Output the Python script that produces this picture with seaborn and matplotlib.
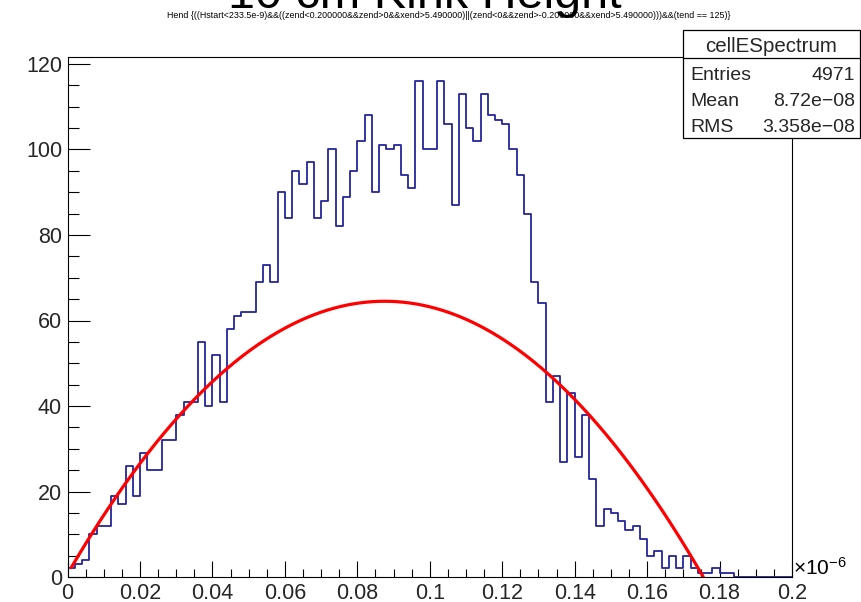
import numpy as np
import pandas as pd
import matplotlib
matplotlib.use("Agg")
import matplotlib.pyplot as plt
import seaborn as sns
from matplotlib.ticker import MultipleLocator, FixedLocator, FixedFormatter
from matplotlib.patches import Rectangle
from matplotlib.lines import Line2D

# ---------------- data ----------------
counts = [2, 3, 4, 10, 12, 12, 19, 17, 26, 19,
          29, 25, 25, 32, 32, 38, 41, 41, 55, 40,
          52, 41, 58, 61, 62, 62, 69, 73, 69, 90,
          84, 95, 92, 97, 84, 88, 100, 82, 89, 95,
          102, 108, 90, 101, 100, 101, 94, 91, 116, 100,
          100, 116, 106, 87, 113, 105, 102, 113, 108, 107,
          106, 100, 94, 85, 69, 64, 41, 47, 27, 43,
          28, 38, 23, 12, 16, 15, 13, 11, 12, 9,
          5, 6, 2, 5, 2, 5, 2, 1, 1, 2, 1, 1]
n_bins = 100
x_min, x_max = 0.0, 0.2
x_ticks = [0.0, 0.02, 0.04, 0.06, 0.08, 0.1, 0.12, 0.14, 0.16, 0.18, 0.2]
x_tick_labels = ["0", "0.02", "0.04", "0.06", "0.08", "0.1", "0.12", "0.14", "0.16", "0.18", "0.2"]
y_ticks = [0, 20, 40, 60, 80, 100, 120]
y_tick_labels = ["0", "20", "40", "60", "80", "100", "120"]
fit_params = [0.75, 1457.2, -8327.0]   # pol2: p0 + p1*x + p2*x^2
fit_range = [0.001, 0.1755]
title = "10 cm Kink Height"
subtitle = ("Hend {((Hstart<233.5e-9)&&((zend<0.200000&&zend>0&&xend>5.490000)||"
            "(zend<0&&zend>-0.200000&&xend>5.490000)))&&(tend == 125)}")
stats_name = "cellESpectrum"
stats_labels = ["Entries", "Mean", "RMS"]
stats_values = ["4971", "8.72e\u221208", "3.358e\u221208"]
exponent_label = r"$\times10^{-6}$"

# ---------------- style ----------------
sns.set_theme(style="white")
plt.rcParams['font.family'] = ['Liberation Sans', 'DejaVu Sans']
plt.rcParams['mathtext.fontset'] = 'custom'
plt.rcParams['mathtext.rm'] = 'Liberation Sans'
plt.rcParams['mathtext.it'] = 'Liberation Sans:italic'
plt.rcParams['mathtext.bf'] = 'Liberation Sans:bold'

W, H = 861, 602
fig = plt.figure(figsize=(W / 100, H / 100), dpi=100)
fig.patch.set_facecolor("white")

def fx(px):
    return px / W

def fy(py):
    return 1 - py / H

ax_l, ax_r, ax_t, ax_b = 67.6, 792.0, 57.0, 577.0
ax = fig.add_axes([fx(ax_l), fy(ax_b), (ax_r - ax_l) / W, (ax_b - ax_t) / H])
ax.set_facecolor("white")

# histogram
bin_w = (x_max - x_min) / n_bins
centers = x_min + bin_w * (np.arange(len(counts)) + 0.5)
df = pd.DataFrame({"x": centers, "w": np.asarray(counts, dtype=float)})
sns.histplot(data=df, x="x", weights="w", bins=n_bins, binrange=(x_min, x_max),
             element="step", fill=False, color="#25259c", linewidth=1.3, ax=ax)

# fit curve
xs = np.linspace(fit_range[0], fit_range[1], 400)
ys = fit_params[0] + fit_params[1] * xs + fit_params[2] * xs ** 2
sns.lineplot(x=xs, y=ys, color="#ff0000", linewidth=2.3, ax=ax, sort=False, estimator=None)

ax.set_xlim(x_min, x_max)
ylim_top = (ax_b - ax_t) / ((ax_b - 64.0) / 120.0)
ax.set_ylim(0, ylim_top)
ax.set_xlabel("")
ax.set_ylabel("")

ax.xaxis.set_major_locator(FixedLocator(x_ticks))
ax.xaxis.set_major_formatter(FixedFormatter(x_tick_labels))
ax.xaxis.set_minor_locator(MultipleLocator(0.005))
ax.yaxis.set_major_locator(FixedLocator(y_ticks))
ax.yaxis.set_major_formatter(FixedFormatter(y_tick_labels))
ax.yaxis.set_minor_locator(MultipleLocator(5))

ax.tick_params(axis="x", which="major", direction="in", length=11.2, width=0.8,
               color="black", labelsize=15.5, pad=4, bottom=True, top=False)
ax.tick_params(axis="x", which="minor", direction="in", length=5.6, width=0.8,
               color="black", bottom=True, top=False)
ax.tick_params(axis="y", which="major", direction="in", length=15.6, width=0.8,
               color="black", labelsize=15.5, pad=4, left=True, right=False)
ax.tick_params(axis="y", which="minor", direction="in", length=7.8, width=0.8,
               color="black", left=True, right=False)
for s in ax.spines.values():
    s.set_visible(True)
    s.set_color("black")
    s.set_linewidth(0.8)

# exponent label
fig.text(fx(793), fy(568), exponent_label, fontsize=15, ha="left", va="center", color="black")

# title & subtitle (the title is partly cut off at the top, as in the reference)
t1 = fig.text(fx(425), fy(7.5), title, fontsize=35, ha="center", va="baseline", color="black")
t2 = fig.text(fx(449), fy(15), subtitle, fontsize=7, ha="center", va="center", color="black")
fig.canvas.draw()
r = fig.canvas.get_renderer()
w1 = t1.get_window_extent(r).width
t1.set_fontsize(35 * 394.0 / w1)
w2 = t2.get_window_extent(r).width
t2.set_fontsize(7 * 558.0 / w2)

# stats box
bx0, bx1, by0, by1, bsep = 683, 860, 30, 138, 58
fig.patches.append(Rectangle((fx(bx0), fy(by1)), (bx1 - bx0) / W, (by1 - by0) / H,
                             transform=fig.transFigure, facecolor="white",
                             edgecolor="black", linewidth=0.9, zorder=5))
fig.lines.append(Line2D([fx(bx0), fx(bx1)], [fy(bsep), fy(bsep)],
                        transform=fig.transFigure, color="black", linewidth=0.9, zorder=6))
fig.text(fx((bx0 + bx1) / 2), fy(46), stats_name, fontsize=14.8, ha="center", va="center", zorder=7)
row_y = [75, 101, 127]
for lab, val, yy in zip(stats_labels, stats_values, row_y):
    fig.text(fx(690), fy(yy), lab, fontsize=14, ha="left", va="center", zorder=7)
    fig.text(fx(855), fy(yy), val, fontsize=14, ha="right", va="center", zorder=7)

fig.savefig("out.png", dpi=100, facecolor="white")
